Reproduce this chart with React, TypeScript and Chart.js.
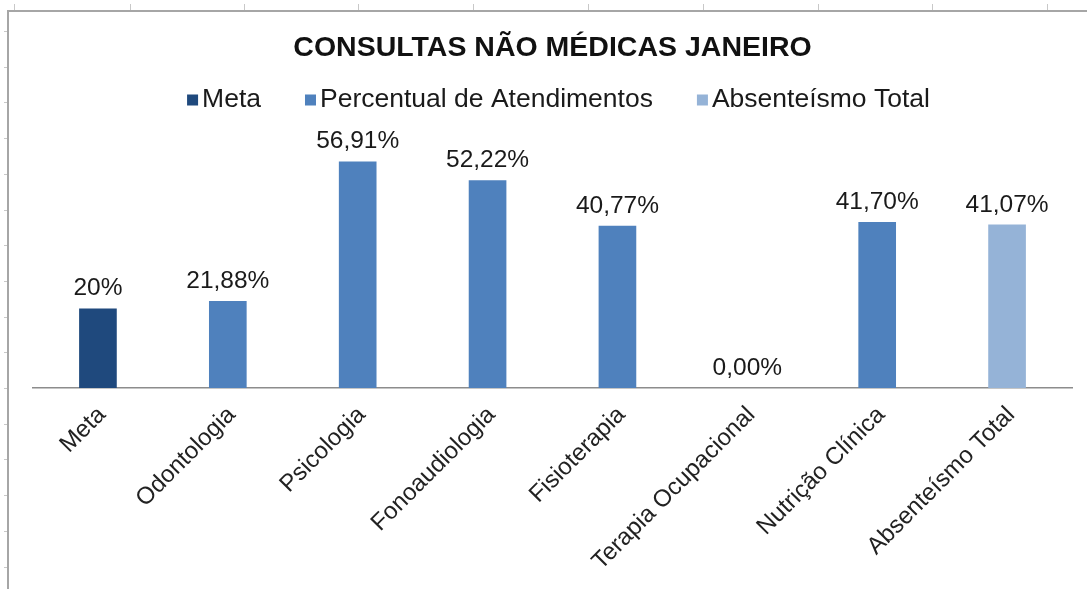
import React, { useEffect, useRef } from 'react';
import { Chart, registerables } from 'chart.js';

Chart.register(...registerables);

const chartTitle = 'CONSULTAS NÃO MÉDICAS JANEIRO';
const categories = [
  'Meta',
  'Odontologia',
  'Psicologia',
  'Fonoaudiologia',
  'Fisioterapia',
  'Terapia Ocupacional',
  'Nutrição Clínica',
  'Absenteísmo Total',
];
const metaValues = [20, null, null, null, null, null, null, null];
const atendimentoValues = [null, 21.88, 56.91, 52.22, 40.77, 0, 41.7, null];
const absenteismoValues = [null, null, null, null, null, null, null, 41.07];
const seriesNames = ['Meta', 'Percentual de Atendimentos', 'Absenteísmo Total'];
const seriesColors = ['#1F497D', '#4F81BD', '#95B3D7'];

const FONT = '"Liberation Sans", Arial, Helvetica, sans-serif';

function formatLabel(datasetIndex: number, v: number): string {
  if (datasetIndex === 0) return `${v}%`;
  return v.toFixed(2).replace('.', ',') + '%';
}

const sheetPlugin = {
  id: 'sheetFrame',
  beforeDraw(chart: any) {
    const ctx = chart.ctx;
    const w = chart.width;
    const h = chart.height;
    ctx.save();
    ctx.fillStyle = '#ffffff';
    ctx.fillRect(0, 0, w, h);
    ctx.strokeStyle = '#c8c8c8';
    ctx.lineWidth = 1;
    const topTicks = [14, 130, 244, 358, 473, 588, 703, 818, 932, 1047];
    topTicks.forEach((x) => {
      ctx.beginPath();
      ctx.moveTo(x + 0.5, 4);
      ctx.lineTo(x + 0.5, 10);
      ctx.stroke();
    });
    for (let y = 31; y < h; y += 35.7) {
      ctx.beginPath();
      ctx.moveTo(4, Math.round(y) + 0.5);
      ctx.lineTo(8, Math.round(y) + 0.5);
      ctx.stroke();
    }
    ctx.strokeStyle = '#a6a6a6';
    ctx.lineWidth = 2;
    ctx.beginPath();
    ctx.moveTo(8, h);
    ctx.lineTo(8, 11);
    ctx.lineTo(w, 11);
    ctx.stroke();
    ctx.restore();
  },
};

const dataLabelPlugin = {
  id: 'dataLabels',
  afterDatasetsDraw(chart: any) {
    const ctx = chart.ctx;
    ctx.save();
    ctx.font = `24.5px ${FONT}`;
    ctx.fillStyle = '#1a1a1a';
    ctx.textAlign = 'center';
    ctx.textBaseline = 'alphabetic';
    chart.data.datasets.forEach((ds: any, di: number) => {
      const meta = chart.getDatasetMeta(di);
      meta.data.forEach((el: any, i: number) => {
        const v = ds.data[i];
        if (v === null || v === undefined) return;
        ctx.fillText(formatLabel(di, v), el.x, el.y - 13);
      });
    });
    ctx.restore();
  },
};

const legendPlugin = {
  id: 'customLegend',
  afterDraw(chart: any) {
    const ctx = chart.ctx;
    ctx.save();
    ctx.font = `26.5px ${FONT}`;
    ctx.textBaseline = 'middle';
    ctx.textAlign = 'left';
    const box = 11;
    const gap = 4;
    const itemGap = 44;
    const items = chart.data.datasets.map((ds: any) => ({
      label: ds.label,
      color: ds.backgroundColor,
      w: ctx.measureText(ds.label).width,
    }));
    const total =
      items.reduce((s: number, it: any) => s + box + gap + it.w, 0) + itemGap * (items.length - 1);
    const ca = chart.chartArea;
    let x = (ca.left + ca.right) / 2 + 6 - total / 2;
    const cy = 100;
    items.forEach((it: any) => {
      ctx.fillStyle = it.color;
      ctx.fillRect(x, cy - box / 2, box, box);
      x += box + gap;
      ctx.fillStyle = '#1a1a1a';
      ctx.fillText(it.label, x, cy);
      x += it.w + itemGap;
    });
    ctx.restore();
  },
};

export default function App() {
  const canvasRef = useRef<HTMLCanvasElement | null>(null);

  useEffect(() => {
    if (!canvasRef.current) return;
    const chart = new Chart(canvasRef.current, {
      type: 'bar',
      data: {
        labels: categories,
        datasets: [
          { label: seriesNames[0], data: metaValues, backgroundColor: seriesColors[0] },
          { label: seriesNames[1], data: atendimentoValues, backgroundColor: seriesColors[1] },
          { label: seriesNames[2], data: absenteismoValues, backgroundColor: seriesColors[2] },
        ],
      },
      options: {
        responsive: false,
        animation: false,
        events: [],
        datasets: {
          bar: {
            categoryPercentage: 1,
            barPercentage: 0.29,
            borderWidth: 0,
          },
        },
        layout: { padding: { left: 33, right: 15, top: 0, bottom: 0 } },
        plugins: {
          legend: { display: false },
          tooltip: { enabled: false },
          title: {
            display: true,
            text: chartTitle,
            color: '#111111',
            font: { family: FONT, size: 28.5, weight: 'bold' },
            padding: { top: 31, bottom: 84 },
          },
        },
        scales: {
          x: {
            stacked: true,
            grid: { display: false, drawTicks: false },
            border: { display: true, color: '#8c8c8c', width: 1.5 },
            ticks: {
              autoSkip: false,
              minRotation: 45,
              maxRotation: 45,
              padding: 13,
              labelOffset: 4,
              color: '#222222',
              font: { family: FONT, size: 24 },
            },
            afterFit: (s: any) => {
              s.height = 201;
            },
          },
          y: {
            stacked: true,
            display: false,
            min: 0,
            max: 60,
          },
        },
      },
      plugins: [sheetPlugin, dataLabelPlugin, legendPlugin],
    });
    return () => chart.destroy();
  }, []);

  return (
    <div style={{ position: 'absolute', left: 0, top: 0, width: 1087, height: 589 }}>
      <canvas ref={canvasRef} width={1087} height={589} style={{ display: 'block' }} />
    </div>
  );
}
